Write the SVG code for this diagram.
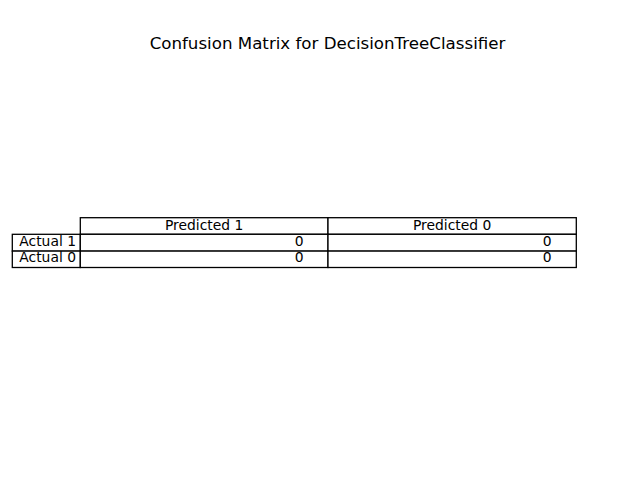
<svg xmlns="http://www.w3.org/2000/svg" width="640" height="480" viewBox="0 0 640 480">
<style>
text{font-family:"DejaVu Sans","Liberation Sans",sans-serif;fill:#000}
.c{font-size:13.89px}
.t{font-size:16.67px}
.cell{fill:#fff;stroke:#000;stroke-width:1.3}
</style>
<rect width="640" height="480" fill="#fff"/>
<text class="t" x="327.5" y="48.8" text-anchor="middle">Confusion Matrix for DecisionTreeClassifier</text>
<g id="table">
<g id="header-p1"><rect class="cell" x="80.3" y="217.7" width="247.7" height="16.6"/><text class="c" x="204.2" y="230.3" text-anchor="middle">Predicted 1</text></g>
<g id="header-p0"><rect class="cell" x="328" y="217.7" width="248.3" height="16.6"/><text class="c" x="452.2" y="230.3" text-anchor="middle">Predicted 0</text></g>
<g id="row-a1"><rect class="cell" x="12.3" y="234.3" width="68" height="16.8"/><text class="c" x="76" y="245.8" text-anchor="end">Actual 1</text></g>
<g id="cell-a1-p1"><rect class="cell" x="80.3" y="234.3" width="247.7" height="16.8"/><text class="c" x="303.5" y="245.8" text-anchor="end">0</text></g>
<g id="cell-a1-p0"><rect class="cell" x="328" y="234.3" width="248.3" height="16.8"/><text class="c" x="551.5" y="245.8" text-anchor="end">0</text></g>
<g id="row-a0"><rect class="cell" x="12.3" y="251.1" width="68" height="16.4"/><text class="c" x="76" y="262.4" text-anchor="end">Actual 0</text></g>
<g id="cell-a0-p1"><rect class="cell" x="80.3" y="251.1" width="247.7" height="16.4"/><text class="c" x="303.5" y="262.4" text-anchor="end">0</text></g>
<g id="cell-a0-p0"><rect class="cell" x="328" y="251.1" width="248.3" height="16.4"/><text class="c" x="551.5" y="262.4" text-anchor="end">0</text></g>
</g>
<g id="connectors"/>
</svg>
